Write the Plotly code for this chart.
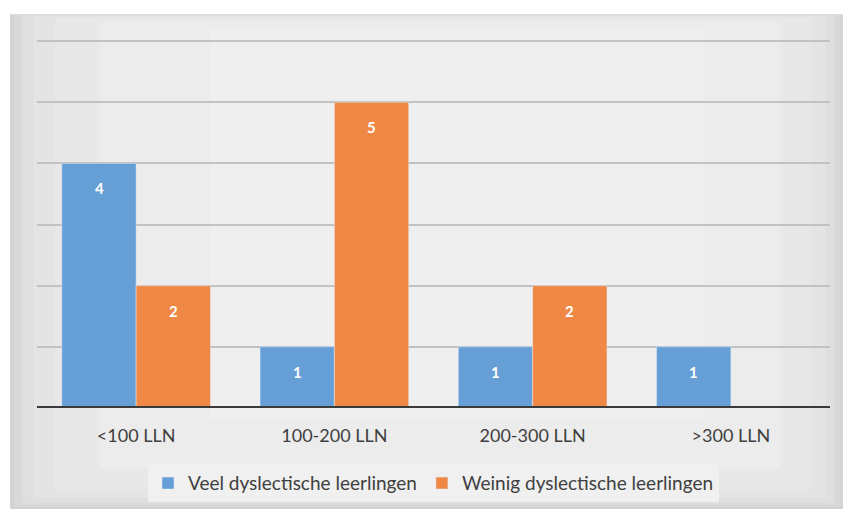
import plotly.graph_objects as go

categories = ["<100 LLN", "100-200 LLN", "200-300 LLN", ">300 LLN"]
veel = [4, 1, 1, 1]
weinig = [2, 5, 2, None]
series_names = ["Veel dyslectische leerlingen", "Weinig dyslectische leerlingen"]

W, H = 843, 514
YMAX = 6.05
L, R, B = 37, 13, 102
ph_unit = (412 - 41) / 6.0
T = int(round(412 - YMAX * ph_unit))
pw, ph = W - L - R, H - T - B

def px(x):
    return (x - L) / pw

def py(y):
    return (H - B - y) / ph

colors = ["#669fd6", "#ef8844"]

fig = go.Figure()
fig.add_bar(x=categories, y=veel, name=series_names[0], marker_color=colors[0])
fig.add_bar(x=categories, y=weinig, name=series_names[1], marker_color=colors[1])

annotations = []
for vals, shift in ((veel, -37), (weinig, 37)):
    for c, v in zip(categories, vals):
        if v is None:
            continue
        annotations.append(dict(x=c, y=v, xref="x", yref="y", text="<b>%d</b>" % v,
                                showarrow=False, xshift=shift, yshift=-25,
                                font=dict(color="white", size=15, family="Lato, sans-serif")))

shapes = []
# background with a soft vignette (darker toward the edges)
layers = [(0, "#d4d4d4"), (5, "#d9d9d9"), (12, "#dfdfdf"), (24, "#e4e4e4"), (45, "#e8e8e8"), (90, "#ececec"), (200, "#efefef")]
for inset, col in layers:
    shapes.append(dict(type="rect", xref="paper", yref="paper", layer="below",
                       x0=px(10 + inset), x1=px(W - inset * 0.7),
                       y0=py(H - inset * 0.45), y1=py(14 + inset * 0.08),
                       fillcolor=col, line=dict(width=0)))
# baseline
shapes.append(dict(type="line", xref="paper", yref="y", x0=0, x1=1, y0=0, y1=0,
                   line=dict(color="#3a3a3a", width=4)))

fig.update_layout(
    width=W, height=H,
    margin=dict(l=L, r=R, t=T, b=B),
    paper_bgcolor="white", plot_bgcolor="rgba(0,0,0,0)",
    barmode="group", bargap=0.25, bargroupgap=0,
    font=dict(family="Lato, sans-serif", color="#404040"),
    shapes=shapes,
    annotations=annotations,
    showlegend=True,
    legend=dict(orientation="h", x=0.5, xanchor="center", y=py(488), yanchor="middle",
                bgcolor="#f0f0f0", font=dict(size=19, color="#404040"),
                borderwidth=0, traceorder="normal"),
    xaxis=dict(showgrid=False, showline=False, ticks="", tickfont=dict(size=18, color="#404040"),
               ticklabelstandoff=15),
    yaxis=dict(range=[0, YMAX], dtick=1, showticklabels=False, showgrid=True,
               gridcolor="#c2c2c2", gridwidth=1.5, zeroline=False, showline=False),
)

fig.write_html("out.html", post_script="document.body.style.margin='0';",
               config={"displayModeBar": False})
